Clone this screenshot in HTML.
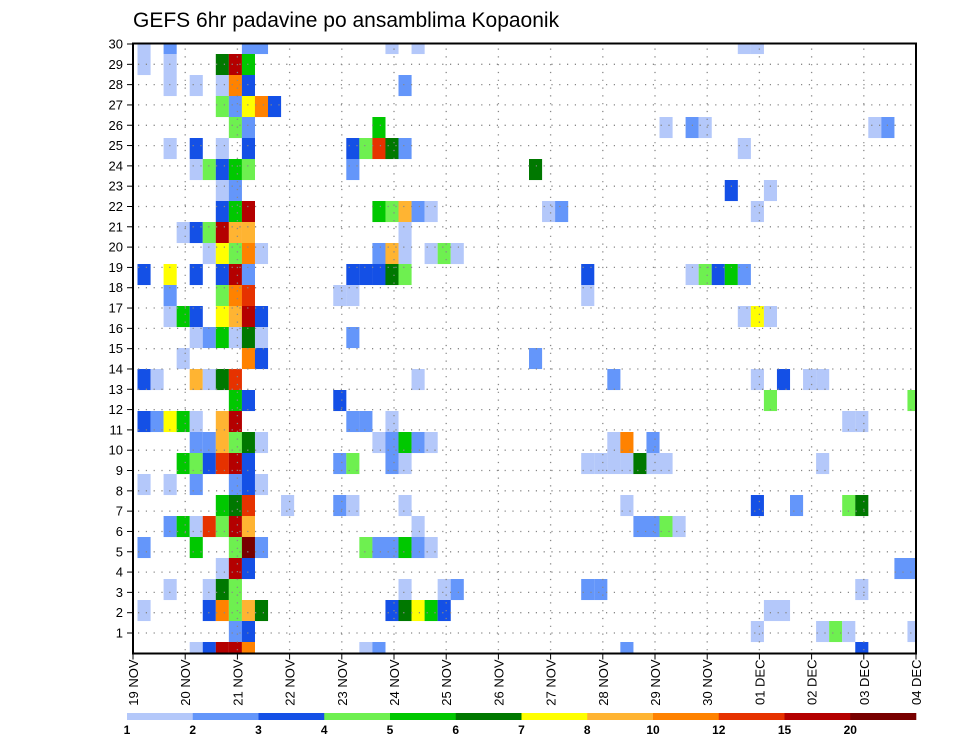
<!DOCTYPE html>
<html><head><meta charset="utf-8"><style>
html,body{margin:0;padding:0;background:#fff;}
svg text{font-family:"Liberation Sans",sans-serif;}
</style></head><body>
<svg id="chart" width="960" height="742" viewBox="0 0 960 742" xmlns="http://www.w3.org/2000/svg">
<rect x="0" y="0" width="960" height="742" fill="#fff"/>
<text x="133" y="27" font-size="21" fill="#000">GEFS 6hr padavine po ansamblima Kopaonik</text>
<defs><clipPath id="plotclip"><rect x="133" y="43.5" width="783" height="610"/></clipPath></defs>
<g id="cells" clip-path="url(#plotclip)"></g>
<g id="grid"></g>
<g id="axes"></g>
<g id="cbar"></g>
</svg>
<script>
const dates = ["19 NOV","20 NOV","21 NOV","22 NOV","23 NOV","24 NOV","25 NOV","26 NOV","27 NOV","28 NOV","29 NOV","30 NOV","01 DEC","02 DEC","03 DEC","04 DEC"];
const members = [30,29,28,27,26,25,24,23,22,21,20,19,18,17,16,15,14,13,12,11,10,9,8,7,6,5,4,3,2,1];
const levelLabels = ["1","2","3","4","5","6","7","8","10","12","15","20"];
const levelColors = ["#b4c8fa","#6496fa","#1450e6","#6ef050","#00c800","#007800","#ffff00","#ffb432","#ff8200","#e63200","#b40000","#780000"];
// each band (top to bottom): [timeStep, level]
const grid = [
[[0,1],[2,2],[8,2],[9,2],[19,1],[21,1],[46,1],[47,1]],
[[0,1],[2,1],[6,6],[7,11],[8,5]],
[[2,1],[4,1],[6,1],[7,9],[8,3],[20,2]],
[[6,4],[7,2],[8,7],[9,9],[10,3]],
[[7,4],[8,2],[18,5],[40,1],[42,2],[43,1],[56,1],[57,2]],
[[2,1],[4,3],[6,1],[8,3],[16,3],[17,4],[18,10],[19,6],[20,2],[46,1]],
[[4,1],[5,4],[6,3],[7,5],[8,4],[16,2],[30,6]],
[[6,1],[7,2],[45,3],[48,1]],
[[6,3],[7,5],[8,11],[18,5],[19,4],[20,8],[21,2],[22,1],[31,1],[32,2],[47,1]],
[[3,1],[4,3],[5,4],[6,11],[7,8],[8,8],[20,1]],
[[5,1],[6,7],[7,4],[8,9],[9,1],[18,2],[19,8],[20,1],[22,1],[23,4],[24,1]],
[[0,3],[2,7],[4,3],[6,3],[7,11],[8,2],[16,3],[17,3],[18,3],[19,6],[20,4],[34,3],[42,1],[43,4],[44,3],[45,5],[46,2]],
[[2,2],[6,4],[7,9],[8,10],[15,1],[16,1],[34,1]],
[[2,1],[3,5],[4,3],[6,7],[7,8],[8,11],[9,3],[46,1],[47,7],[48,1]],
[[4,1],[5,2],[6,5],[7,1],[8,6],[9,1],[16,2]],
[[3,1],[8,9],[9,3],[30,2]],
[[0,3],[1,1],[4,8],[5,1],[6,6],[7,10],[21,1],[36,2],[47,1],[49,3],[51,1],[52,1]],
[[7,5],[8,3],[15,3],[48,4],[59,4]],
[[0,3],[1,2],[2,7],[3,5],[4,1],[6,8],[7,11],[16,2],[17,2],[19,1],[54,1],[55,1]],
[[4,2],[5,2],[6,8],[7,4],[8,6],[9,1],[18,1],[19,2],[20,5],[21,2],[22,1],[36,1],[37,9],[39,2]],
[[3,5],[4,4],[5,3],[6,10],[7,11],[8,3],[15,2],[16,4],[19,2],[20,1],[34,1],[35,1],[36,1],[37,1],[38,6],[39,1],[40,1],[52,1]],
[[0,1],[2,1],[4,2],[7,2],[8,3],[9,1]],
[[6,5],[7,6],[8,10],[11,1],[15,2],[16,1],[20,1],[37,1],[47,3],[50,2],[54,4],[55,6]],
[[2,2],[3,5],[4,1],[5,10],[6,4],[7,11],[8,8],[21,1],[38,2],[39,2],[40,4],[41,1]],
[[0,2],[4,5],[7,4],[8,12],[9,2],[17,4],[18,2],[19,2],[20,5],[21,2],[22,1]],
[[6,1],[7,11],[8,3],[58,2],[59,2]],
[[2,1],[5,1],[6,6],[7,4],[20,1],[23,1],[24,2],[34,2],[35,2],[55,1]],
[[0,1],[5,3],[6,9],[7,4],[8,8],[9,6],[19,3],[20,6],[21,7],[22,5],[23,3],[48,1],[49,1]],
[[7,2],[8,3],[47,1],[52,1],[53,4],[54,1],[59,1]],
[[4,1],[5,3],[6,11],[7,11],[8,9],[17,1],[18,2],[37,2],[55,3]]
];
const NS="http://www.w3.org/2000/svg";
const PL=133,PR=916,PT=43.5,PB=653.5;
function xStep(s){return 137.5+13.05*s;}
function yBand(b){return 54+(b-1)*21;}
function xDay(d){return PL+d*(PR-PL)/(dates.length-1);}
function yLabel(m){return 633-(m-1)*20.31;}
function mk(tag,attrs,parent){const e=document.createElementNS(NS,tag);for(const k in attrs)e.setAttribute(k,attrs[k]);parent.appendChild(e);return e;}
const gC=document.getElementById('cells');
grid.forEach((row,b)=>{row.forEach(([s,l])=>{
  const r=mk('rect',{x:xStep(s),y:yBand(b),width:13.1,height:21.05,fill:levelColors[l-1]},gC);
  
  
});});
const gG=document.getElementById('grid');
let dots='';
for(let m=1;m<=29;m++){const y=yLabel(m);for(let x=PL+5;x<PR;x+=7.8)dots+=`M${x.toFixed(1)} ${y.toFixed(1)}h1.2`;}
for(let d=1;d<dates.length-1;d++){const x=xDay(d);for(let y=PT+5;y<PB;y+=7.8)dots+=`M${x.toFixed(1)} ${y.toFixed(1)}v1.2`;}
mk('path',{d:dots,stroke:'#888','stroke-width':1.3,fill:'none'},gG);
const gA=document.getElementById('axes');
const fr=mk('rect',{x:PL,y:PT,width:PR-PL,height:PB-PT,fill:'none',stroke:'#000','stroke-width':2},gA);


members.forEach(m=>{const y=yLabel(m);
  mk('line',{x1:PL-6,x2:PL,y1:y,y2:y,stroke:'#000','stroke-width':1},gA);
  const t=mk('text',{x:PL-10,y:y+4.5,'font-size':13,'text-anchor':'end',fill:'#000'},gA);
  t.textContent=m;
  
  
});
dates.forEach((d,i)=>{const x=xDay(i);
  mk('line',{x1:x,x2:x,y1:PB,y2:PB+6,stroke:'#000','stroke-width':1},gA);
  const t=mk('text',{x:0,y:0,'font-size':13,'text-anchor':'end',fill:'#000',transform:`translate(${x+5},${PB+6}) rotate(-90)`},gA);
  t.textContent=d;
  
  
});
const gB=document.getElementById('cbar');
const CB0=127,CB1=916,cw=(CB1-CB0)/levelColors.length;
levelColors.forEach((c,i)=>{
  const r=mk('rect',{x:CB0+i*cw,y:713,width:cw+0.3,height:7,fill:c},gB);
  
  
  const t=mk('text',{x:CB0+i*cw,y:734,'font-size':12,'font-weight':'bold','text-anchor':'middle',fill:'#000'},gB);
  t.textContent=levelLabels[i];
  
  
});
</script>
</body></html>
